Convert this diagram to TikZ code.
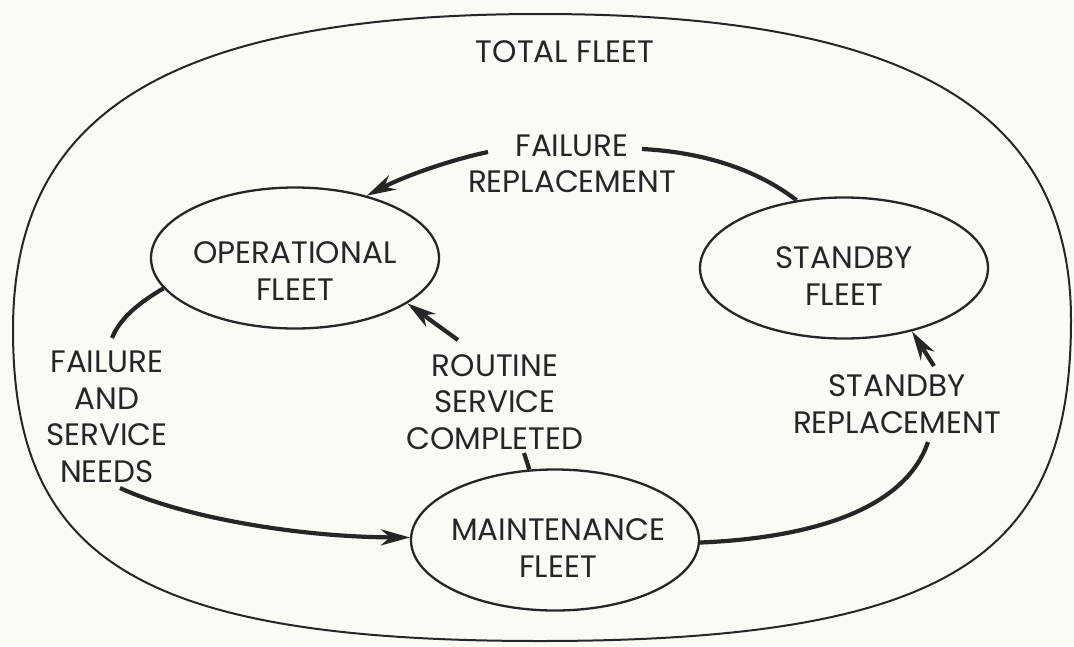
\documentclass[tikz,border=0pt]{standalone}
\usepackage{fontspec}
\setmainfont{Poppins}
\usetikzlibrary{arrows.meta,shapes.geometric}
\definecolor{paper}{RGB}{251,251,245}
\definecolor{ink}{RGB}{38,38,38}
\begin{document}
\begin{tikzpicture}[x=1pt,y=-1pt,
  every node/.style={text=ink, font=\fontsize{31}{36.5}\selectfont},
  fleet/.style={ellipse, draw=ink, line width=2.3pt, inner sep=0pt,
    minimum width=288pt, minimum height=141pt},
  fleetcap/.style={align=center, inner sep=0pt},
  flowlabel/.style={align=center, inner sep=0pt},
  flow/.style={draw=ink, line width=4.2pt},
  tip/.style={-{Stealth[length=29pt,width=16pt,inset=9pt]}}
]
\fill[paper] (0,0) rectangle (1074,646);
\useasboundingbox (0,0) rectangle (1074,646);

% boundary of the whole fleet
\draw[ink, line width=2pt]
  (540,14) .. controls (900,14) and (1071,105) .. (1071,320)
           .. controls (1071,550) and (960,641) .. (540,641)
           .. controls (140,641) and (13,560) .. (13,330)
           .. controls (13,125) and (150,14) .. cycle;

\node (total) at (565,52) {TOTAL FLEET};

% the three sub-fleets
\node[fleet] (op) at (295,258) {};
\node[fleet] (sb) at (844,268) {};
\node[fleet] (mt) at (555,540) {};
\node[fleetcap] (opcap) at (295,271) {OPERATIONAL\\FLEET};
\node[fleetcap] (sbcap) at (844,276) {STANDBY\\FLEET};
\node[fleetcap] (mtcap) at (558,548) {MAINTENANCE\\FLEET};

% transition labels
\node[flowlabel] (frl) at (572,164) {FAILURE\\REPLACEMENT};
\node[flowlabel] (fsn) at (107,417) {FAILURE\\AND\\SERVICE\\NEEDS};
\node[flowlabel] (rsc) at (495,402) {ROUTINE\\SERVICE\\COMPLETED};
\node[flowlabel] (sbr) at (897,404) {STANDBY\\REPLACEMENT};

% where the flow lines break around the labels
\coordinate (frR) at (642,149);
\coordinate (frL) at (488,152);
\coordinate (rscT) at (458,340);
\coordinate (rscB) at (524,453);
\coordinate (fsnT) at (112,338);
\coordinate (fsnB) at (120,488);
\coordinate (sbrT) at (934,366);
\coordinate (sbrB) at (928,442);

% standby -> operational
\draw[flow] (sb.125) .. controls (755,168) and (700,152) .. (frR);
\draw[flow, tip] (frL) .. controls (450,160) and (405,176) .. (op.41);
% maintenance -> operational
\draw[flow] (mt.110) -- (rscB);
\draw[flow, tip] (rscT) -- (op.-22);
% operational -> maintenance
\draw[flow] (op.-167) .. controls (140,302) and (120,318) .. (fsnT);
\draw[flow, tip] (fsnB) .. controls (185,518) and (300,537) .. (mt.179);
% maintenance -> standby
\draw[flow] (mt.-1) .. controls (810,538) and (905,510) .. (sbrB);
\draw[flow, tip] (sbrT) -- (sb.-43);
\end{tikzpicture}
\end{document}
